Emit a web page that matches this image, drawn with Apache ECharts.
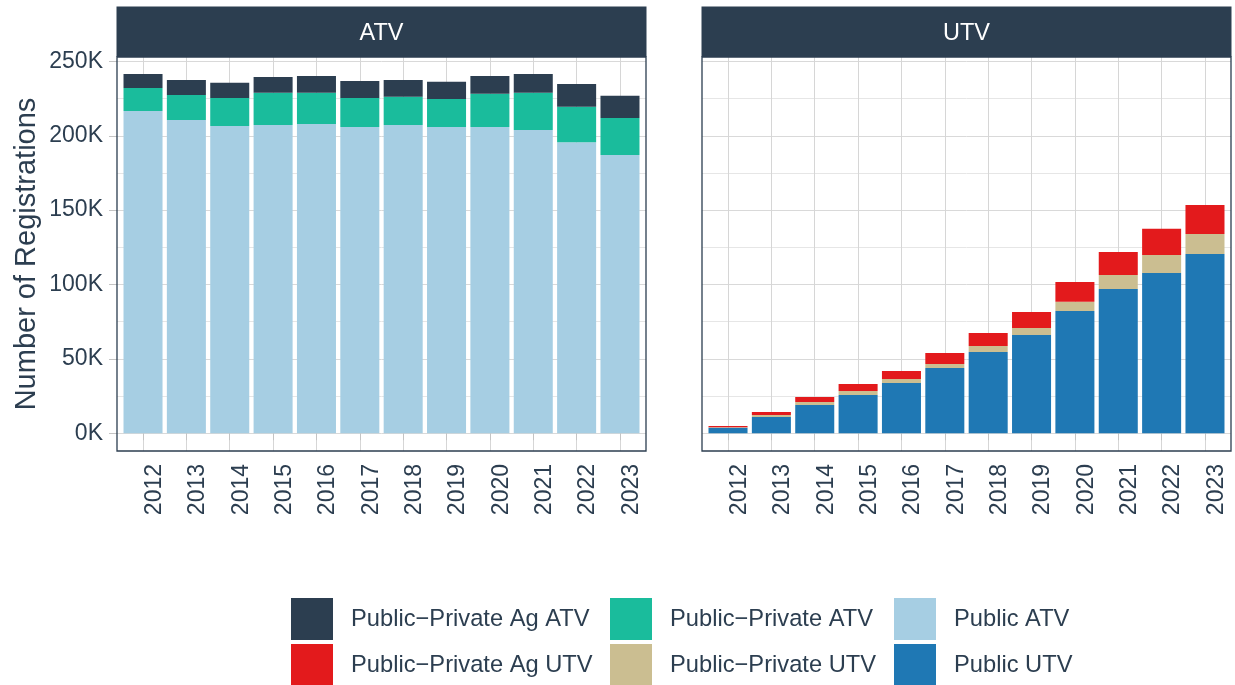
<!DOCTYPE html>
<html>
<head>
<meta charset="utf-8">
<script src="https://cdn.jsdelivr.net/npm/echarts@6/dist/echarts.min.js"></script>
<style>
  html, body { margin: 0; padding: 0; background: #ffffff; }
  #chart { width: 1235px; height: 685px; }
</style>
</head>
<body>
<div id="chart"></div>
<script>
// data (registrations, in thousands)
const years = ['2012', '2013', '2014', '2015', '2016', '2017', '2018', '2019', '2020', '2021', '2022', '2023'];
const publicAtv = [216.7, 210.7, 206.6, 207.3, 207.9, 205.9, 207.3, 205.9, 205.9, 203.9, 195.6, 187.1];
const ppAtv     = [15.5, 16.8, 18.9, 21.6, 21.0, 19.6, 18.9, 18.9, 22.3, 25.0, 23.9, 24.9];
const agAtv     = [9.4, 10.1, 10.1, 10.7, 11.4, 11.4, 11.4, 11.5, 12.1, 12.7, 15.4, 14.9];
const publicUtv = [3.7, 10.9, 19.0, 25.7, 33.8, 43.8, 54.6, 66.1, 82.2, 97.0, 107.8, 120.5];
const ppUtv     = [0.3, 1.3, 2.0, 2.7, 2.7, 2.7, 4.0, 4.7, 6.1, 9.4, 12.1, 13.5];
const agUtv     = [0.8, 2.0, 3.3, 4.6, 5.3, 7.4, 8.8, 10.7, 13.4, 15.5, 17.5, 19.5];
const yTickLabels = ['0K', '50K', '100K', '150K', '200K', '250K'];

const names = {
  agAtv: 'Public\u2212Private Ag ATV',
  ppAtv: 'Public\u2212Private ATV',
  pubAtv: 'Public ATV',
  agUtv: 'Public\u2212Private Ag UTV',
  ppUtv: 'Public\u2212Private UTV',
  pubUtv: 'Public UTV'
};
const colors = {
  agAtv: '#2c3e50', ppAtv: '#1abc9c', pubAtv: '#a6cee3',
  agUtv: '#e31a1c', ppUtv: '#cbbe91', pubUtv: '#1f78b4'
};

const ink = '#2c3e50';
const font = '"Liberation Sans", Arial, sans-serif';

// panel layout
const panelTop = 57, panelBottom = 451, panelH = panelBottom - panelTop;
const yMin = -12, yMax = 253;
const pxPerK = panelH / (yMax - yMin);
const y0 = panelBottom - (0 - yMin) * pxPerK;
const y250 = panelBottom - (250 - yMin) * pxPerK;
const panels = [
  { left: 117, width: 529, title: 'ATV' },
  { left: 702, width: 529, title: 'UTV' }
];

const chart = echarts.init(document.getElementById('chart'));

const grids = [], xAxes = [], yAxes = [], graphics = [];
panels.forEach(function (p, i) {
  const inset = p.width / 122;
  // frame grid: horizontal gridlines + y labels
  grids.push({ left: p.left, width: p.width, top: y250, height: y0 - y250, containLabel: false });
  // bar grid
  grids.push({ left: p.left + inset, width: p.width - 2 * inset, top: panelTop, height: panelH, containLabel: false });

  xAxes.push({ gridIndex: 2 * i, type: 'value', min: 0, max: 1, show: false });
  xAxes.push({
    gridIndex: 2 * i + 1,
    type: 'category',
    data: years,
    axisLine: { show: false },
    axisTick: { show: true, alignWithLabel: true, length: 7, lineStyle: { color: '#c4c4c4', width: 1 } },
    axisLabel: {
      rotate: 90, fontSize: 23, color: ink, fontFamily: font, margin: 13,
      verticalAlign: 'top'
    },
    splitLine: { show: true, alignWithLabel: true, lineStyle: { color: '#d6d6d6', width: 1 } }
  });

  yAxes.push({
    gridIndex: 2 * i,
    type: 'value',
    min: 0, max: 250, interval: 50,
    axisLine: { show: false },
    axisTick: { show: i === 0, length: 8, lineStyle: { color: '#c4c4c4' } },
    axisLabel: {
      show: i === 0, fontSize: 23, color: ink, fontFamily: font, margin: 14,
      formatter: function (v) { return yTickLabels[Math.round(v / 50)]; }
    },
    splitLine: { show: true, lineStyle: { color: '#d9d9d9', width: 1 } },
    minorTick: { show: false, splitNumber: 2 },
    minorSplitLine: { show: true, lineStyle: { color: '#e6e6e6', width: 1 } }
  });
  yAxes.push({ gridIndex: 2 * i + 1, type: 'value', min: yMin, max: yMax, show: false });

  // facet strip
  graphics.push({
    type: 'rect', z: 10,
    shape: { x: p.left - 0.5, y: 6.5, width: p.width + 1, height: panelTop - 6.5 },
    style: { fill: ink }
  });
  graphics.push({
    type: 'text', z: 11,
    x: p.left + p.width / 2, y: 33.5,
    style: { text: p.title, fill: '#ffffff', font: '23.5px ' + font, textAlign: 'center', textVerticalAlign: 'middle' }
  });
  // panel border
  graphics.push({
    type: 'rect', z: 10,
    shape: { x: p.left, y: panelTop, width: p.width, height: panelH },
    style: { fill: 'none', stroke: ink, lineWidth: 1.3 }
  });
});

graphics.push({
  type: 'text', z: 11,
  x: 27, y: (panelTop + panelBottom) / 2,
  rotation: Math.PI / 2,
  style: { text: 'Number of Registrations', fill: ink, font: '29px ' + font, textAlign: 'center', textVerticalAlign: 'middle' }
});

function bar(key, data, panel, stack) {
  return {
    name: names[key], type: 'bar', stack: stack,
    xAxisIndex: 2 * panel + 1, yAxisIndex: 2 * panel + 1,
    barCategoryGap: '10%',
    itemStyle: { color: colors[key] },
    emphasis: { disabled: true },
    data: data
  };
}

const series = [
  bar('pubAtv', publicAtv, 0, 'atv'),
  bar('ppAtv', ppAtv, 0, 'atv'),
  bar('agAtv', agAtv, 0, 'atv'),
  bar('pubUtv', publicUtv, 1, 'utv'),
  bar('ppUtv', ppUtv, 1, 'utv'),
  bar('agUtv', agUtv, 1, 'utv')
];

// legend: 2 rows x 3 columns
const legendCells = [
  ['agAtv', 291, 598], ['ppAtv', 610, 598], ['pubAtv', 894, 598],
  ['agUtv', 291, 644], ['ppUtv', 610, 644], ['pubUtv', 894, 644]
];
const legends = legendCells.map(function (c) {
  return {
    data: [{ name: names[c[0]], icon: 'rect' }],
    left: c[1], top: c[2],
    orient: 'horizontal',
    padding: 0,
    itemWidth: 42, itemHeight: 42,
    selectedMode: false,
    textStyle: { fontSize: 23.7, color: ink, fontFamily: font, padding: [5, 0, 0, 13] }
  };
});

chart.setOption({
  animation: false,
  backgroundColor: '#ffffff',
  textStyle: { fontFamily: font },
  grid: grids,
  xAxis: xAxes,
  yAxis: yAxes,
  legend: legends,
  graphic: graphics,
  series: series
});

window.addEventListener('resize', function () { chart.resize(); });
</script>
</body>
</html>
